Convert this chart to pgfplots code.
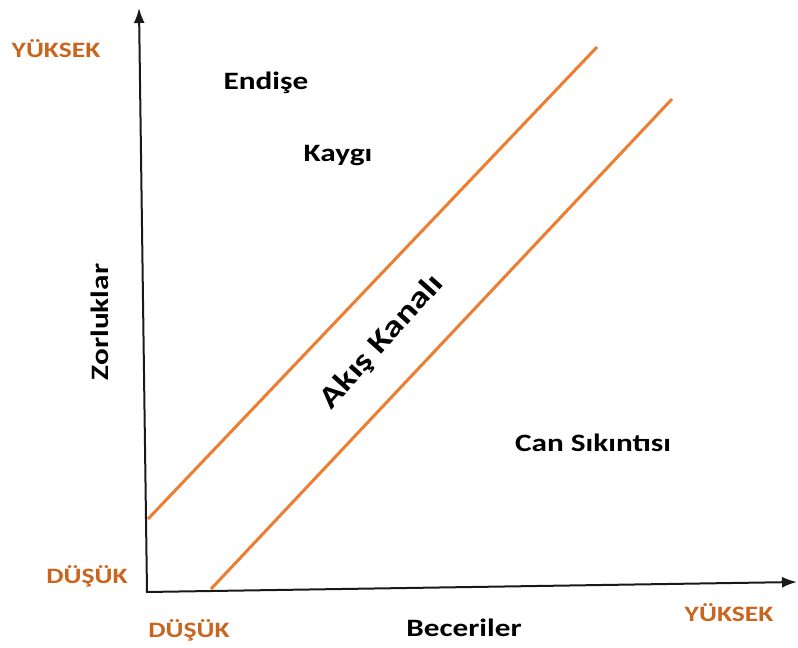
\documentclass[border=0pt]{standalone}
\usepackage{pgfplots}
\pgfplotsset{compat=1.18}
\usetikzlibrary{arrows.meta}
\usepackage{fontspec}
\setmainfont{Carlito}
\definecolor{lineor}{HTML}{ED7D31}
\definecolor{textor}{HTML}{C9651F}
\newcommand{\sx}[1]{\scalebox{1.25}[1]{#1}}
\begin{document}
\begin{tikzpicture}
\begin{axis}[
  x=1pt, y=1pt,
  xmin=0, xmax=798, ymin=0, ymax=648,
  y dir=reverse,
  hide axis,
  clip=false,
  scale only axis,
]
% frame to fix picture size
\addplot[white, line width=0pt, opacity=0] coordinates {(0,0) (798,648)};
% axes
\addplot[black!90, line width=2pt, -{Latex[length=15pt,width=11pt]}] coordinates {(147,592) (139,8)};
\addplot[black!90, line width=2pt, -{Latex[length=15pt,width=11pt]}] coordinates {(146,592) (797,582)};
% flow channel lines
\addplot[lineor, line width=3pt] coordinates {(148,519) (597,47)};
\addplot[lineor, line width=3pt] coordinates {(211,589) (672,99)};
% labels
\node[text=textor, font=\bfseries\fontsize{22}{22}\selectfont] at (axis cs:56,49) {\sx{YÜKSEK}};
\node[text=textor, font=\bfseries\fontsize{22}{22}\selectfont] at (axis cs:87,576) {\sx{DÜŞÜK}};
\node[text=textor, font=\bfseries\fontsize{22}{22}\selectfont] at (axis cs:189,630) {\sx{DÜŞÜK}};
\node[text=textor, font=\bfseries\fontsize{22}{22}\selectfont] at (axis cs:729,613) {\sx{YÜKSEK}};
\node[font=\bfseries\fontsize{25}{25}\selectfont] at (axis cs:266,83) {\sx{Endişe}};
\node[font=\bfseries\fontsize{25}{25}\selectfont] at (axis cs:338,156) {\sx{Kaygı}};
\node[font=\bfseries\fontsize{25}{25}\selectfont] at (axis cs:593,443) {\sx{Can Sıkıntısı}};
\node[font=\bfseries\fontsize{25}{25}\selectfont] at (axis cs:464,628) {\sx{Beceriler}};
\node[font=\bfseries\fontsize{25}{25}\selectfont, rotate=90] at (axis cs:100,322) {\sx{Zorluklar}};
\node[font=\bfseries\fontsize{30}{30}\selectfont, rotate=48] at (axis cs:382,342) {\sx{Akış Kanalı}};
\end{axis}
\end{tikzpicture}
\end{document}
